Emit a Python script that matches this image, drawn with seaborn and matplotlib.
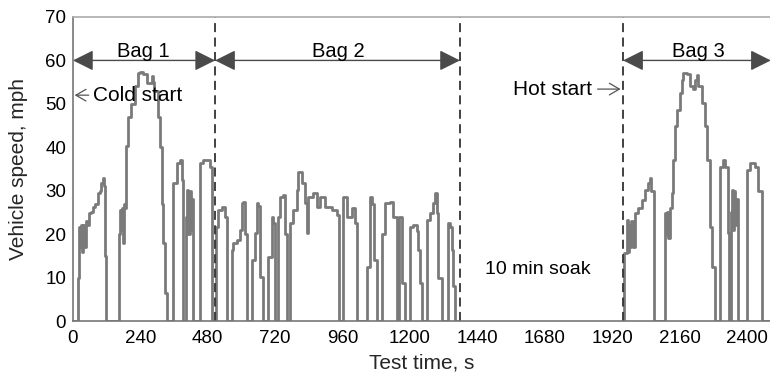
import numpy as np
import pandas as pd
import matplotlib
matplotlib.use("Agg")
import matplotlib.pyplot as plt
import seaborn as sns

# ---- data ----
bag1_time = [0, 18, 19, 21, 24, 28, 32, 36, 40, 45, 53, 56, 65, 71, 80, 89, 95, 101, 107, 110, 113, 118,
             160, 163, 166, 170, 174, 178, 182, 184, 190, 196, 208, 220, 231, 240, 249, 263, 281, 284, 290,
             304, 310, 316, 322, 328, 334, 351, 357, 369, 381, 387, 393, 399, 403, 407, 411, 415, 419, 422,
             427, 446, 452, 464, 488, 495, 506]
bag1_speed = [0, 0, 10, 21.7, 17, 22, 16, 22, 17, 23, 22, 24.8, 25, 26.3, 27, 29.4, 30, 31.7, 33, 31, 15, 0,
              0, 20, 25.6, 21, 26, 18, 27, 26, 40.2, 47, 50, 54, 57.1, 57.4, 56.8, 54.8, 56.3, 55, 53,
              47, 40, 27, 18, 6.4, 0, 0, 31.8, 36.4, 37.1, 32.5, 0, 0, 24, 30.2, 20, 30, 21, 28,
              0, 0, 36.3, 37.1, 35.5, 0, 0]

bag2_time = [506, 508, 517, 530, 540, 547, 559, 565, 568, 583, 595, 601, 606, 611, 618, 630, 636, 648, 654,
             660, 665, 672, 678, 688, 696, 708, 712, 719, 725, 731, 737, 749, 755, 763, 768, 773, 785, 797,
             802, 814, 826, 832, 838, 856, 868, 880, 897, 921, 939, 946, 953, 963, 975, 992, 1004, 1012,
             1040, 1046, 1058, 1064, 1072, 1081, 1097, 1101, 1111, 1129, 1141, 1153, 1157, 1160, 1168,
             1170, 1182, 1192, 1200, 1212, 1224, 1230, 1236, 1242, 1253, 1259, 1262, 1271, 1283, 1289,
             1295, 1301, 1313, 1325, 1337, 1342, 1348, 1352, 1360, 1372]
bag2_speed = [0, 21.7, 25.6, 26.3, 24, 0, 0, 16.4, 18, 18.7, 21, 27.2, 27.5, 20, 0, 0, 14, 20.2, 27.2,
              26.5, 10.2, 10.2, 0, 0, 14.8, 24, 22.5, 0, 0, 24, 28.6, 29, 20, 0, 0, 22.5, 25.6, 30.2,
              34.4, 31.7, 27.1, 20.2, 28.6, 29.4, 26.3, 28.6, 26.3, 25.6, 24.5, 0, 0, 28.6, 24, 26, 22.5, 0,
              0, 12.5, 28.6, 27, 14, 0, 0, 20, 27.1, 27.4, 24, 0, 0, 24, 24,
              8.7, 0, 0, 21.7, 22, 20.8, 16.4, 8.7, 0, 0, 10, 23.3, 24.8, 27.1, 29.4,
              24.8, 10, 0, 0, 22.5, 21.7, 16.4, 8, 0, 0]

bag3_time = [1960, 1962, 1972, 1976, 1980, 1984, 1988, 1994, 2001, 2013, 2025, 2037, 2049, 2055, 2060, 2069,
             2102, 2108, 2112, 2116, 2120, 2125, 2132, 2138, 2144, 2150, 2162, 2168, 2173, 2185, 2197,
             2209, 2215, 2221, 2227, 2239, 2251, 2257, 2268, 2274, 2286, 2298, 2304, 2316, 2322, 2334,
             2337, 2341, 2344, 2347, 2351, 2355, 2359, 2362, 2368, 2390, 2399, 2411, 2429, 2441, 2452, 2477]
bag3_speed = [0, 15.6, 23.3, 16, 22, 17, 23, 17, 24.8, 26, 27.9, 30.2, 31.7, 32.9, 30, 0,
              0, 24.8, 20, 25, 19, 26, 29.4, 37.1, 44.8, 48.6, 52.5, 55.5, 57.1, 56.8, 54,
              53.5, 55.5, 56.7, 54, 50.2, 44.8, 37.1, 21.7, 12.5, 0, 0, 35.5, 37.1, 35.5, 20.2,
              0, 0, 25, 30.2, 21, 30, 22, 28, 0, 0, 34.8, 36.3, 35.5, 30, 0, 0]

bag_bounds = [0, 506, 1378, 1959, 2485]
bag_labels = ["Bag 1", "Bag 2", "Bag 3"]
x_ticks = [0, 240, 480, 720, 960, 1200, 1440, 1680, 1920, 2160, 2400]
y_ticks = [0, 10, 20, 30, 40, 50, 60, 70]

df = pd.concat([
    pd.DataFrame({"time": bag1_time, "speed": bag1_speed, "seg": "b1"}),
    pd.DataFrame({"time": bag2_time, "speed": bag2_speed, "seg": "b2"}),
    pd.DataFrame({"time": bag3_time, "speed": bag3_speed, "seg": "b3"}),
], ignore_index=True)

sns.set_theme(style="white")
plt.rcParams["font.family"] = ["Liberation Sans", "DejaVu Sans"]

fig = plt.figure(figsize=(7.7, 3.8), dpi=100)
ax = fig.add_axes([73 / 770, 59 / 380, 697 / 770, 304 / 380])

sns.lineplot(data=df, x="time", y="speed", units="seg", estimator=None, sort=False,
             color="#7a7a7a", linewidth=2.0, ax=ax, legend=False, drawstyle="steps-post")

ax.set_xlim(0, 2482)
ax.set_ylim(0, 70)
ax.set_xticks(x_ticks)
ax.set_yticks(y_ticks)
ax.tick_params(axis="both", labelsize=13.5, colors="#555555", length=5, width=1, direction="inout",
               pad=4)
ax.tick_params(axis="y", direction="in", length=4, pad=5)
for lab in ax.get_xticklabels() + ax.get_yticklabels():
    lab.set_color("black")
ax.set_xlabel("Test time, s", fontsize=15, labelpad=5)
ax.set_ylabel("Vehicle speed, mph", fontsize=15, labelpad=12)

for s in ["left", "bottom"]:
    ax.spines[s].set_color("#777777")
    ax.spines[s].set_linewidth(1.2)
ax.spines["top"].set_color("#aaaaaa")
ax.spines["top"].set_linewidth(1.2)
ax.spines["right"].set_visible(False)

# dashed bag boundaries
for xb in bag_bounds[1:4]:
    ax.axvline(xb, ymin=0, ymax=1, color="#333333", linestyle=(0, (5, 3)), linewidth=1.3)

# bag arrows
arrow_spans = [(bag_bounds[0], bag_bounds[1]), (bag_bounds[1], bag_bounds[2]), (bag_bounds[3], bag_bounds[4])]
label_x = [250, 944, 2228]
for (a, b), lab, lx in zip(arrow_spans, bag_labels, label_x):
    ax.annotate("", xy=(b, 60), xytext=(a, 60), annotation_clip=False,
                arrowprops=dict(arrowstyle="<|-|>,head_length=0.7,head_width=0.35", mutation_scale=18,
                                color="#4a4a4a", lw=1.0, shrinkA=0, shrinkB=0))
    ax.text(lx, 60.9, lab, fontsize=14.5, ha="center", va="baseline", color="black")

# start annotations
ax.annotate("", xy=(6, 52), xytext=(56, 52),
            arrowprops=dict(arrowstyle="->,head_length=0.6,head_width=0.35", color="#555555", lw=0.9,
                            shrinkA=0, shrinkB=0))
ax.text(72, 52, "Cold start", fontsize=15, ha="left", va="center", color="black")
ax.annotate("", xy=(1950, 53.4), xytext=(1868, 53.4),
            arrowprops=dict(arrowstyle="->,head_length=0.6,head_width=0.35", color="#555555", lw=0.9,
                            shrinkA=0, shrinkB=0))
ax.text(1848, 53.4, "Hot start", fontsize=15, ha="right", va="center", color="black")
ax.text(1656, 11.8, "10 min soak", fontsize=14, ha="center", va="center", color="black")

fig.savefig("out.png", dpi=100)
